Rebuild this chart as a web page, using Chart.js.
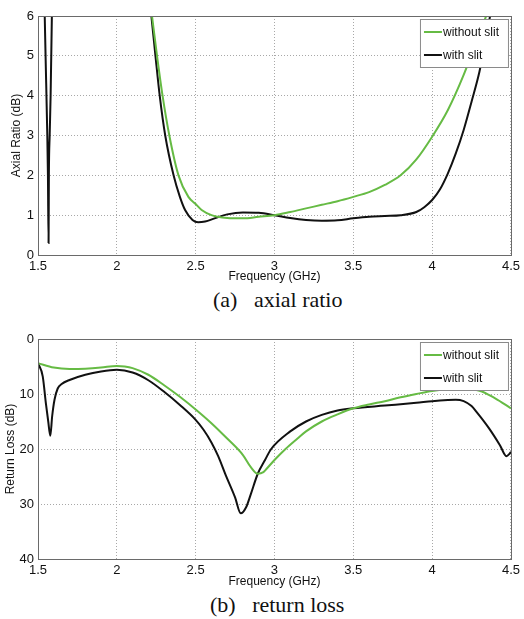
<!DOCTYPE html>
<html lang="en">
<head>
  <meta charset="UTF-8">
  <title>Axial ratio and return loss</title>
  <script src="https://cdn.jsdelivr.net/npm/chart.js"></script>
  <style>
    body {
      margin: 0;
      width: 524px;
      height: 619px;
      background: white;
      position: relative;
      overflow: hidden;
    }
    .box {
      position: absolute;
      left: 0;
      width: 524px;
    }
    .caption {
      position: absolute;
      font-family: 'Liberation Serif', 'Times New Roman', serif;
      font-size: 22px;
      color: #111;
      white-space: pre;
    }
  </style>
</head>
<body>
  <div class="box" style="top:0;height:285px"><canvas id="arChart"></canvas></div>
  <div class="caption" style="left:213px;top:287px">(a)   axial ratio</div>
  <div class="box" style="top:320px;height:270px"><canvas id="rlChart"></canvas></div>
  <div class="caption" style="left:210px;top:592px">(b)   return loss</div>

  <script>
    // Axial ratio (dB)
    const arFreqWithout = [2.20, 2.223, 2.255, 2.29, 2.333, 2.391, 2.454, 2.5, 2.538, 2.6, 2.64, 2.7, 2.8, 2.9, 3.0, 3.1, 3.2, 3.3, 3.4, 3.5, 3.6, 3.7, 3.8, 3.9, 4.0, 4.1, 4.2, 4.3, 4.35, 4.4];
    const arWithout     = [6.8, 6.0, 5.0, 4.0, 3.0, 2.0, 1.46, 1.28, 1.13, 1.0, 0.96, 0.93, 0.92, 0.96, 1.0, 1.08, 1.17, 1.26, 1.35, 1.46, 1.58, 1.76, 2.0, 2.4, 2.97, 3.64, 4.52, 5.57, 6.1, 7.0];
    const arFreqWith = [1.54, 1.548, 1.559, 1.563, 1.567, 1.569, 1.574, 1.58, 1.588, 1.593, 1.6, 2.19, 2.219, 2.245, 2.272, 2.307, 2.36, 2.40, 2.433, 2.48, 2.516, 2.56, 2.62, 2.7, 2.8, 2.9, 3.0, 3.1, 3.2, 3.3, 3.4, 3.5, 3.6, 3.7, 3.8, 3.9, 3.95, 4.0, 4.05, 4.1, 4.15, 4.2, 4.25, 4.3, 4.35, 4.38];
    const arWith     = [6.5, 5.0, 3.0, 2.0, 0.3, 2.0, 3.0, 4.0, 6.0, 7.0, null, 7.0, 6.0, 5.0, 4.0, 3.0, 2.0, 1.46, 1.13, 0.88, 0.82, 0.84, 0.92, 1.02, 1.07, 1.06, 1.0, 0.93, 0.88, 0.86, 0.87, 0.92, 0.96, 0.98, 1.0, 1.08, 1.2, 1.38, 1.65, 2.05, 2.55, 3.14, 3.85, 4.6, 5.6, 6.3];

    // Return loss (dB)
    const rlFreqWithout = [1.5, 1.6, 1.7, 1.8, 1.9, 2.0, 2.05, 2.1, 2.2, 2.3, 2.4, 2.5, 2.6, 2.7, 2.8, 2.85, 2.894, 2.93, 2.95, 3.0, 3.07, 3.146, 3.2, 3.3, 3.4, 3.5, 3.6, 3.7, 3.8, 3.9, 4.0, 4.1, 4.2, 4.3, 4.4, 4.5];
    const rlWithout     = [4.4, 5.2, 5.45, 5.4, 5.2, 4.9, 5.0, 5.3, 6.5, 8.4, 10.5, 12.8, 15.3, 18.1, 21.1, 23.3, 24.5, 24.2, 23.6, 22.0, 20.0, 18.1, 16.8, 15.0, 13.7, 12.6, 11.9, 11.3, 10.6, 10.0, 9.45, 9.2, 9.15, 9.4, 10.8, 12.6];
    const rlFreqWith = [1.5, 1.53, 1.55, 1.565, 1.578, 1.59, 1.605, 1.625, 1.65, 1.7, 1.8, 1.9, 2.0, 2.1, 2.2, 2.3, 2.4, 2.5, 2.55, 2.6, 2.643, 2.69, 2.75, 2.786, 2.82, 2.85, 2.894, 2.94, 2.979, 3.1, 3.2, 3.3, 3.4, 3.5, 3.7, 3.9, 4.0, 4.1, 4.15, 4.2, 4.25, 4.28, 4.36, 4.43, 4.471, 4.49, 4.5];
    const rlWith     = [4.4, 6.8, 11.7, 15.0, 17.6, 14.0, 11.0, 9.0, 8.2, 7.45, 6.5, 5.9, 5.6, 6.1, 7.5, 9.6, 12.0, 14.7, 16.5, 18.8, 21.3, 24.7, 28.8, 31.7, 30.6, 28.2, 24.5, 22.0, 20.0, 16.8, 15.0, 13.8, 13.0, 12.6, 12.1, 11.6, 11.3, 11.1, 11.05, 11.3, 12.2, 13.2, 16.2, 19.3, 21.3, 20.9, 20.5];

    const seriesNames = ['without slit', 'with slit'];
    const freqTicks = [1.5, 2, 2.5, 3, 3.5, 4, 4.5];

    const GREEN = '#66bb44';
    const BLACK = '#111111';
    const tickFont = { family: 'Liberation Sans, Arial, sans-serif', size: 13 };
    const titleFont = { family: 'Liberation Sans, Arial, sans-serif', size: 12 };

    function points(xs, ys) {
      return xs.map((x, i) => ({ x: x, y: ys[i] }));
    }

    // frame round the plot area plus a matlab-like legend box
    const framePlugin = {
      id: 'frame',
      afterDraw(chart) {
        const ctx = chart.ctx;
        const a = chart.chartArea;
        ctx.save();
        ctx.strokeStyle = '#6a6a6a';
        ctx.lineWidth = 1;
        ctx.strokeRect(Math.round(a.left) + 0.5, Math.round(a.top) + 0.5,
          Math.round(a.right - a.left), Math.round(a.bottom - a.top));

        const bx = a.right - 91, by = a.top + 3, bw = 88, bh = 48;
        ctx.fillStyle = 'white';
        ctx.fillRect(bx, by, bw, bh);
        ctx.strokeStyle = '#8a8a8a';
        ctx.strokeRect(bx + 0.5, by + 0.5, bw, bh);
        ctx.font = '12px Liberation Sans, Arial, sans-serif';
        ctx.textBaseline = 'middle';
        chart.data.datasets.forEach((ds, i) => {
          const ry = by + 13 + i * 23;
          ctx.strokeStyle = ds.borderColor;
          ctx.lineWidth = 2;
          ctx.beginPath();
          ctx.moveTo(bx + 4, ry);
          ctx.lineTo(bx + 22, ry);
          ctx.stroke();
          ctx.fillStyle = '#111';
          ctx.fillText(ds.label, bx + 23, ry + 1);
        });
        ctx.restore();
      }
    };

    function makeChart(id, datasets, yOpts, yTitle, topPad, xHeight, yTitlePad) {
      return new Chart(document.getElementById(id), {
        type: 'line',
        data: { datasets: datasets },
        options: {
          responsive: true,
          maintainAspectRatio: false,
          animation: false,
          layout: { padding: { top: topPad, right: 9, left: 0, bottom: 0 } },
          plugins: { legend: { display: false }, tooltip: { enabled: false } },
          elements: { point: { radius: 0 }, line: { borderWidth: 2, cubicInterpolationMode: 'monotone' } },
          scales: {
            x: {
              type: 'linear',
              min: 1.5,
              max: 4.5,
              afterBuildTicks: s => { s.ticks = freqTicks.map(v => ({ value: v })); },
              afterFit: s => { s.height = xHeight; },
              ticks: { font: tickFont, color: '#111', padding: 4, maxRotation: 0, callback: v => String(v) },
              grid: { color: '#a8a8a8', drawTicks: false },
              border: { display: false, dash: [1, 2] },
              title: { display: true, text: 'Frequency (GHz)', font: titleFont, color: '#111', padding: { top: 0, bottom: 1 } }
            },
            y: Object.assign({
              afterFit: s => { s.width = 38; },
              ticks: { font: tickFont, color: '#111', padding: 4 },
              grid: { color: '#a8a8a8', drawTicks: false },
              border: { display: false, dash: [1, 2] },
              title: { display: true, text: yTitle, font: titleFont, color: '#111', padding: { top: yTitlePad, bottom: 0 } }
            }, yOpts)
          }
        },
        plugins: [framePlugin]
      });
    }

    makeChart('arChart', [
      { label: seriesNames[0], data: points(arFreqWithout, arWithout), borderColor: GREEN, spanGaps: false },
      { label: seriesNames[1], data: points(arFreqWith, arWith), borderColor: BLACK, spanGaps: false }
    ], { min: 0, max: 6, ticks: { font: tickFont, color: '#111', padding: 4, stepSize: 1 } }, 'Axial Ratio (dB)', 16, 30, 9);

    makeChart('rlChart', [
      { label: seriesNames[0], data: points(rlFreqWithout, rlWithout), borderColor: GREEN },
      { label: seriesNames[1], data: points(rlFreqWith, rlWith), borderColor: BLACK }
    ], { min: 0, max: 40, reverse: true, ticks: { font: tickFont, color: '#111', padding: 4, stepSize: 10 } }, 'Return Loss (dB)', 19, 31, 3);
  </script>
</body>
</html>
